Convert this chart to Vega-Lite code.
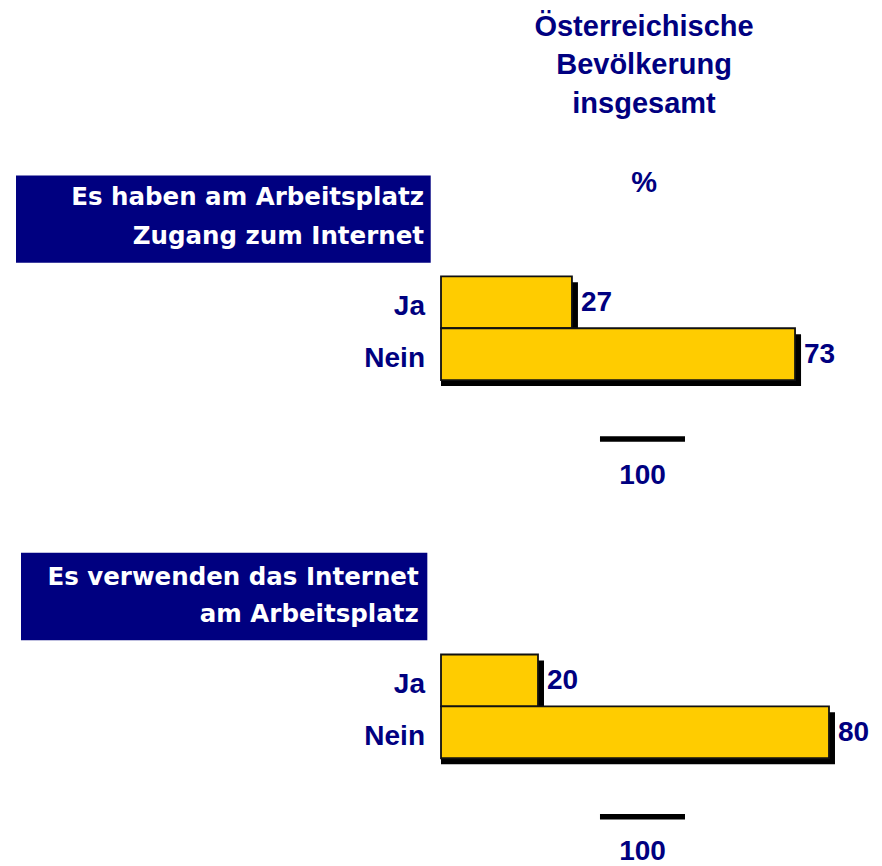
{
  "$schema": "https://vega.github.io/schema/vega-lite/v6.json",
  "width": 882,
  "height": 866,
  "autosize": {"type": "fit", "contains": "padding"},
  "padding": 0,
  "background": "white",
  "config": {"view": {"stroke": null}, "text": {"font": "Liberation Sans", "fontWeight": "bold"}},
  "data": {
    "values": [
      {"group": "Es haben am Arbeitsplatz Zugang zum Internet", "answer": "Ja", "value": 27},
      {"group": "Es haben am Arbeitsplatz Zugang zum Internet", "answer": "Nein", "value": 73},
      {"group": "Es verwenden das Internet am Arbeitsplatz", "answer": "Ja", "value": 20},
      {"group": "Es verwenden das Internet am Arbeitsplatz", "answer": "Nein", "value": 80}
    ]
  },
  "resolve": {"scale": {"y": "independent", "yOffset": "independent"}},
  "layer": [
    {
      "mark": {"type": "bar", "fill": "#000000", "xOffset": 6, "x2Offset": 6},
      "encoding": {
        "x": {"field": "value", "type": "quantitative", "stack": null, "scale": {"domain": [-90.93, 90.93], "nice": false, "zero": false}, "axis": null},
        "y": {"field": "group", "type": "nominal", "scale": {"paddingInner": 0.4512, "paddingOuter": 0.36808, "align": 0.8065}, "axis": null},
        "yOffset": {"field": "answer", "type": "nominal", "scale": {"paddingInner": 0, "paddingOuter": 1, "align": 0.5577}}
      }
    },
    {
      "encoding": {
        "y": {"field": "group", "type": "nominal", "scale": {"paddingInner": 0.4512, "paddingOuter": 0.36808, "align": 0.8065}, "axis": null},
        "yOffset": {"field": "answer", "type": "nominal", "scale": {"paddingInner": 0, "paddingOuter": 1, "align": 0.5}}
      },
      "layer": [
        {
          "mark": {"type": "bar", "fill": "#FFCC00", "stroke": "#111111", "strokeWidth": 1.8},
          "encoding": {
            "x": {"field": "value", "type": "quantitative", "stack": null, "scale": {"domain": [-90.93, 90.93], "nice": false, "zero": false}, "axis": null}
          }
        },
        {
          "mark": {"type": "text", "align": "left", "baseline": "middle", "dx": 9, "dy": 1, "fontSize": 28, "fill": "#000080"},
          "encoding": {
            "x": {"field": "value", "type": "quantitative", "stack": null, "scale": {"domain": [-90.93, 90.93], "nice": false, "zero": false}, "axis": null},
            "text": {"field": "value", "type": "quantitative"}
          }
        },
        {
          "mark": {"type": "text", "align": "right", "baseline": "middle", "dy": 5, "fontSize": 28, "fill": "#000080"},
          "encoding": {
            "x": {"datum": -3.3, "type": "quantitative"},
            "text": {"field": "answer", "type": "nominal"}
          }
        }
      ]
    },
    {
      "data": {"values": [{}]},
      "encoding": {
        "y": {"type": "quantitative", "scale": {"domain": [0, 866], "reverse": true, "nice": false, "zero": false}, "axis": null}
      },
      "layer": [
        {
          "mark": {"type": "text", "align": "center", "baseline": "alphabetic", "fontSize": 29, "lineHeight": 38.5, "fill": "#000080"},
          "encoding": {
            "x": {"datum": 41.86, "type": "quantitative"},
            "y": {"datum": 36, "type": "quantitative"},
            "text": {"value": ["Österreichische", "Bevölkerung", "insgesamt"]}
          }
        },
        {
          "mark": {"type": "text", "align": "center", "baseline": "alphabetic", "fontSize": 29, "fill": "#000080"},
          "encoding": {
            "x": {"datum": 41.86, "type": "quantitative"},
            "y": {"datum": 192, "type": "quantitative"},
            "text": {"value": "%"}
          }
        },
        {
          "mark": {"type": "rect", "fill": "#000080"},
          "encoding": {
            "x": {"datum": -87.63, "type": "quantitative"},
            "x2": {"datum": -2.12},
            "y": {"datum": 176, "type": "quantitative"},
            "y2": {"datum": 263.3}
          }
        },
        {
          "mark": {"type": "text", "align": "right", "baseline": "alphabetic", "font": "DejaVu Sans", "fontSize": 24.5, "lineHeight": 38.6, "fill": "#ffffff"},
          "encoding": {
            "x": {"datum": -3.5, "type": "quantitative"},
            "y": {"datum": 205.7, "type": "quantitative"},
            "text": {"value": ["Es haben am Arbeitsplatz", "Zugang zum Internet"]}
          }
        },
        {
          "mark": {"type": "rect", "fill": "#000080"},
          "encoding": {
            "x": {"datum": -86.6, "type": "quantitative"},
            "x2": {"datum": -2.82},
            "y": {"datum": 554, "type": "quantitative"},
            "y2": {"datum": 641.7}
          }
        },
        {
          "mark": {"type": "text", "align": "right", "baseline": "alphabetic", "font": "DejaVu Sans", "fontSize": 24.5, "lineHeight": 36.6, "fill": "#ffffff"},
          "encoding": {
            "x": {"datum": -4.6, "type": "quantitative"},
            "y": {"datum": 586.7, "type": "quantitative"},
            "text": {"value": ["Es verwenden das Internet", "am Arbeitsplatz"]}
          }
        },
        {
          "mark": {"type": "rule", "stroke": "#000000", "strokeWidth": 5.5, "strokeCap": "butt"},
          "encoding": {
            "x": {"datum": 32.78, "type": "quantitative"},
            "x2": {"datum": 50.31},
            "y": {"datum": 440, "type": "quantitative"}
          }
        },
        {
          "mark": {"type": "text", "align": "center", "baseline": "alphabetic", "fontSize": 28, "fill": "#000080"},
          "encoding": {
            "x": {"datum": 41.55, "type": "quantitative"},
            "y": {"datum": 485, "type": "quantitative"},
            "text": {"value": "100"}
          }
        },
        {
          "mark": {"type": "rule", "stroke": "#000000", "strokeWidth": 5.5, "strokeCap": "butt"},
          "encoding": {
            "x": {"datum": 32.78, "type": "quantitative"},
            "x2": {"datum": 50.31},
            "y": {"datum": 818.7, "type": "quantitative"}
          }
        },
        {
          "mark": {"type": "text", "align": "center", "baseline": "alphabetic", "fontSize": 28, "fill": "#000080"},
          "encoding": {
            "x": {"datum": 41.55, "type": "quantitative"},
            "y": {"datum": 862, "type": "quantitative"},
            "text": {"value": "100"}
          }
        }
      ]
    }
  ]
}
